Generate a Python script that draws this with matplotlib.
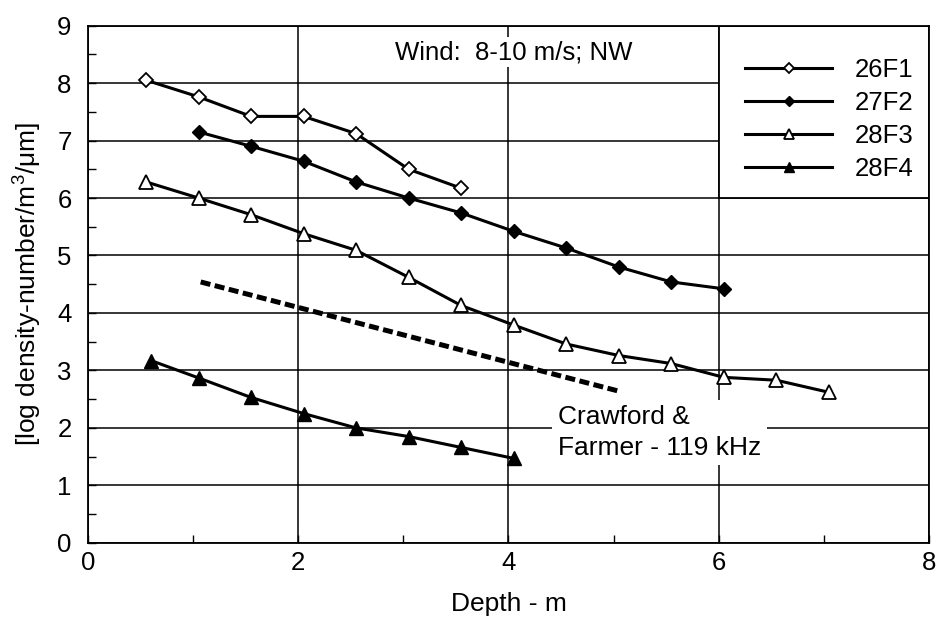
import matplotlib
matplotlib.use("Agg")
import matplotlib.pyplot as plt
from matplotlib.patches import Rectangle
from matplotlib.ticker import MultipleLocator

plt.rcParams['font.family'] = ['Liberation Sans', 'DejaVu Sans']
plt.rcParams['mathtext.fontset'] = 'custom'
plt.rcParams['mathtext.rm'] = 'Liberation Sans'

# depth (m) and log density values
x_26f1 = [0.55, 1.05, 1.55, 2.05, 2.55, 3.05, 3.55]
y_26f1 = [8.05, 7.76, 7.42, 7.42, 7.12, 6.50, 6.17]

x_27f2 = [1.05, 1.55, 2.05, 2.55, 3.05, 3.55, 4.05, 4.55, 5.05, 5.55, 6.05]
y_27f2 = [7.15, 6.90, 6.64, 6.28, 6.00, 5.74, 5.42, 5.13, 4.80, 4.54, 4.42]

x_28f3 = [0.55, 1.05, 1.55, 2.05, 2.55, 3.05, 3.55, 4.05, 4.55, 5.05, 5.55, 6.05, 6.55, 7.05]
y_28f3 = [6.28, 6.00, 5.71, 5.38, 5.09, 4.62, 4.13, 3.79, 3.46, 3.26, 3.12, 2.88, 2.83, 2.62]

x_28f4 = [0.6, 1.05, 1.55, 2.05, 2.55, 3.05, 3.55, 4.05]
y_28f4 = [3.17, 2.87, 2.53, 2.25, 2.00, 1.85, 1.66, 1.47]

x_cf = [1.07, 5.05]
y_cf = [4.54, 2.64]

fig = plt.figure(figsize=(9.39, 6.24), dpi=100)
ax = fig.add_axes([0.094, 0.130, 0.895, 0.829])

lw = 2.2
ms = 9.5
ax.plot(x_26f1, y_26f1, color='black', lw=lw, marker='D', ms=ms * 0.8,
        mfc='white', mec='black', mew=1.3, label='26F1', zorder=3)
ax.plot(x_27f2, y_27f2, color='black', lw=lw, marker='D', ms=ms * 0.8,
        mfc='black', mec='black', label='27F2', zorder=3)
ax.plot(x_28f3, y_28f3, color='black', lw=lw, marker='^', ms=ms,
        mfc='white', mec='black', mew=1.3, label='28F3', zorder=3)
ax.plot(x_28f4, y_28f4, color='black', lw=lw, marker='^', ms=ms,
        mfc='black', mec='black', label='28F4', zorder=3)
ax.plot(x_cf, y_cf, color='black', lw=3.6, dashes=(2.0, 0.9),
        dash_capstyle='butt', zorder=3)

ax.set_xlim(0, 8)
ax.set_ylim(0, 9)
ax.xaxis.set_major_locator(MultipleLocator(2))
ax.xaxis.set_minor_locator(MultipleLocator(1))
ax.yaxis.set_major_locator(MultipleLocator(1))
ax.yaxis.set_minor_locator(MultipleLocator(0.5))
ax.tick_params(which='both', direction='in', labelsize=18.5)
ax.tick_params(which='major', length=6, width=1)
ax.tick_params(which='minor', length=6, width=1)
ax.tick_params(axis='x', pad=6)
ax.tick_params(axis='y', pad=12)
ax.grid(True, which='major', color='black', lw=1.1)
for s in ax.spines.values():
    s.set_linewidth(1.3)

ax.set_xlabel('Depth - m', fontsize=19, labelpad=12)
ax.set_ylabel('[log density-number/m$^3$/μm]', fontsize=19, labelpad=10)

ax.text(4.05, 8.54, 'Wind:  8-10 m/s; NW', fontsize=18.5, ha='center', va='center',
        bbox=dict(facecolor='white', edgecolor='none', pad=2), zorder=4)
ax.text(4.47, 1.92, 'Crawford &\nFarmer - 119 kHz', fontsize=19, ha='left', va='center',
        linespacing=1.35, bbox=dict(facecolor='white', edgecolor='none', pad=4), zorder=4)

# legend box sits exactly on the grid cell 6..8 x 6..9
ax.add_patch(Rectangle((6, 6), 2, 3, facecolor='white', edgecolor='black', lw=1.3, zorder=2.5))
ax.legend(loc='upper left', bbox_to_anchor=(0.782, 0.938), frameon=False,
          fontsize=18.5, handlelength=3.35, handletextpad=0.9, labelspacing=0.36,
          borderpad=0, borderaxespad=0, markerscale=0.7)

fig.savefig('out.png', dpi=100)
